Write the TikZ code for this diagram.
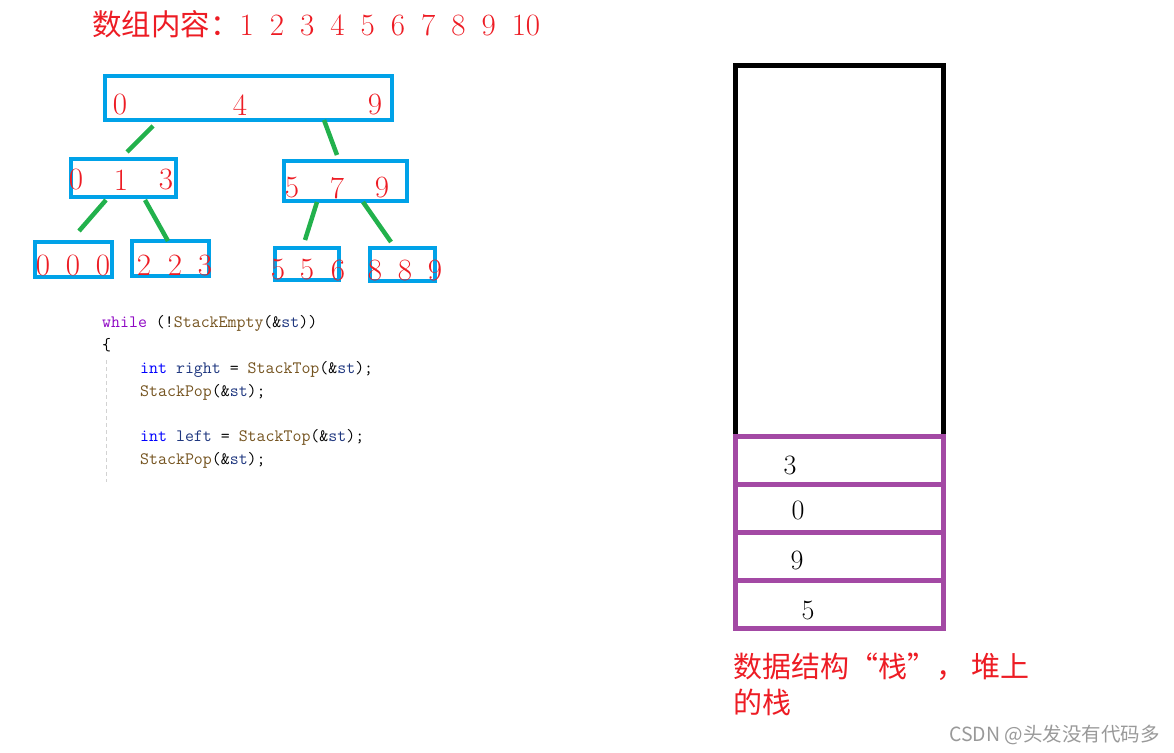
\documentclass[tikz,border=0pt]{standalone}
\usepackage{fontspec}
\newfontfamily\cjk{Noto Sans CJK SC}
\usetikzlibrary{calc,fit}

\definecolor{pred}{HTML}{ED1C24}
\definecolor{pblue}{HTML}{00A2E8}
\definecolor{pgreen}{HTML}{22B14C}
\definecolor{ppurple}{HTML}{A349A4}
\definecolor{kwpurple}{HTML}{8F08C4}
\definecolor{kwblue}{HTML}{0000FF}
\definecolor{fnbrown}{HTML}{74531F}
\definecolor{varblue}{HTML}{1F377F}

% code colouring
\newcommand{\kw}[1]{\textcolor{kwblue}{#1}}
\newcommand{\fn}[1]{\textcolor{fnbrown}{#1}}
\newcommand{\vr}[1]{\textcolor{varblue}{#1}}

\tikzset{
  blubox/.style={draw=pblue, line width=4pt, inner sep=0pt},
  twig/.style={draw=pgreen, line width=4.5pt},
  num/.style={text=pred, inner sep=0pt, font=\fontsize{31}{31}\selectfont},
  code/.style={anchor=base west, inner sep=0pt, font=\ttfamily\fontsize{17.4}{22}\selectfont},
  wall/.style={draw=black, line width=5pt, inner sep=0pt, minimum width=208pt},
  cell/.style={draw=ppurple, line width=5pt, inner sep=0pt, minimum width=208pt, minimum height=48pt},
  stknum/.style={inner sep=0pt, font=\fontsize{28}{28}\selectfont},
}

\begin{document}
\begin{tikzpicture}[x=1pt, y=-1pt]
  \useasboundingbox (0,0) rectangle (1174,752);

  % title
  \node[anchor=base west, inner sep=0pt, text=pred, font=\fontsize{31}{31}\selectfont] (title) at (92,36)
    {{\cjk\fontsize{29.5}{30}\selectfont 数组内容：}\spaceskip=16pt 1 2 3 4 5 6 7 8 9 10};

  % ranges split in three
  \node[blubox, fit={(105,76) (392,120)}] (a09) {};
  \node[blubox, fit={(71,159) (176,197)}] (a03) {};
  \node[blubox, fit={(284,161) (407,201)}] (a59) {};
  \node[blubox, fit={(35,242) (112,277)}] (a00) {};
  \node[blubox, fit={(132,241) (209,276)}] (a23) {};
  \node[blubox, fit={(275,248) (339,280)}] (a56) {};
  \node[blubox, fit={(370,248) (435,281)}] (a89) {};

  % left, middle, right of each range
  \foreach \d/\x [count=\i] in {0/120,4/240,9/375} \node[num] (d09\i) at (\x,105) {\d};
  \foreach \d/\x [count=\i] in {0/76,1/121,3/166} \node[num] (d03\i) at (\x,180) {\d};
  \foreach \d/\x [count=\i] in {5/292,7/337,9/382} \node[num] (d59\i) at (\x,188) {\d};
  \foreach \d/\x [count=\i] in {0/43,0/73,0/103} \node[num] (d00\i) at (\x,265) {\d};
  \foreach \d/\x [count=\i] in {2/144,2/175,3/205} \node[num] (d23\i) at (\x,265) {\d};
  \foreach \d/\x [count=\i] in {5/278,5/307,6/338} \node[num] (d56\i) at (\x,270) {\d};
  \foreach \d/\x [count=\i] in {8/375,8/405,9/435} \node[num] (d89\i) at (\x,270) {\d};

  % splits
  \draw[twig] ($(a09.south west)+(50,4)$) -- ($(a03.north west)+(58,-5)$);
  \draw[twig] ($(a09.south west)+(221,-2)$) -- ($(a59.north west)+(55,-4)$);
  \draw[twig] ($(a03.south west)+(37,1)$) -- ($(a00.north west)+(46,-9)$);
  \draw[twig] ($(a03.south west)+(76,1)$) -- ($(a23.north west)+(38,2)$);
  \draw[twig] ($(a59.south west)+(35,-1)$) -- ($(a56.north west)+(32,-6)$);
  \draw[twig] ($(a59.south west)+(81,-1)$) -- ($(a89.north west)+(23,-4)$);

  % code
  \draw[gray!35, line width=1pt, dash pattern=on 4pt off 3pt] (106,360) -- (106,482);
  \node[code] (c1) at (102,327.5) {\textcolor{kwpurple}{while} (!\fn{StackEmpty}(\&\vr{st}))};
  \node[code] (c2) at (102,350) {\{};
  \node[code] (c3) at (140,373) {\kw{int} \vr{right} = \fn{StackTop}(\&\vr{st});};
  \node[code] (c4) at (140,396) {\fn{StackPop}(\&\vr{st});};
  \node[code] (c5) at (140,441) {\kw{int} \vr{left} = \fn{StackTop}(\&\vr{st});};
  \node[code] (c6) at (140,464) {\fn{StackPop}(\&\vr{st});};

  % the stack
  \node[wall, minimum height=371pt] (stk) at (839.5,251) {};
  \node[cell] (s1) at (839.5,460.5) {};
  \node[cell] (s2) at (839.5,508.5) {};
  \node[cell] (s3) at (839.5,556.5) {};
  \node[cell] (s4) at (839.5,604.5) {};
  \node[stknum] (v1) at (790,465) {3};
  \node[stknum] (v2) at (798,510) {0};
  \node[stknum] (v3) at (797,560) {9};
  \node[stknum] (v4) at (808,610) {5};

  \node[anchor=base west, inner sep=0pt, text=pred, font=\cjk\fontsize{29}{29}\selectfont] (lab1) at (733,677) {数据结构“栈”， 堆上};
  \node[anchor=base west, inner sep=0pt, text=pred, font=\cjk\fontsize{29}{29}\selectfont] (lab2) at (733,713) {的栈};

  \node[anchor=base east, inner sep=0pt, text=gray!80, font=\cjk\fontsize{19.5}{19.5}\selectfont] (mark) at (1160,741) {CSDN @头发没有代码多};
\end{tikzpicture}
\end{document}
